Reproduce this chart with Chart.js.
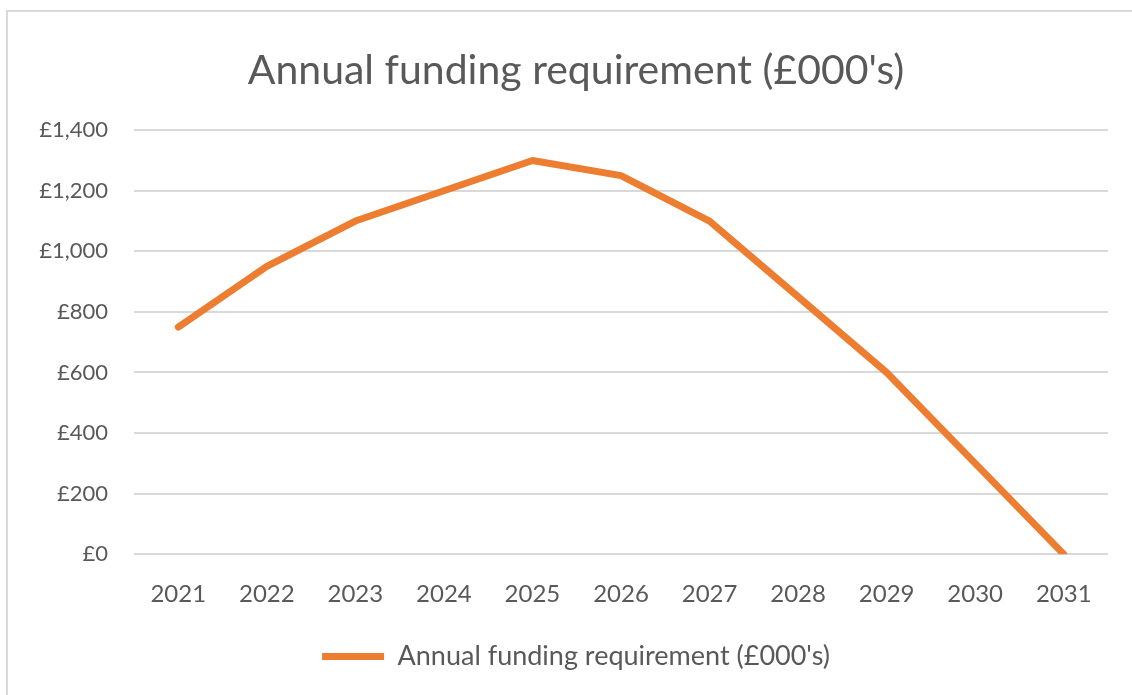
<!DOCTYPE html>
<html>
<head>
<meta charset="utf-8">
<script src="https://cdn.jsdelivr.net/npm/chart.js@4/dist/chart.umd.min.js"></script>
<style>
  html, body { margin: 0; padding: 0; background: #fff; overflow: hidden; }
  #frame {
    position: absolute; left: 6px; top: 10px; width: 1140px; height: 700px;
    border-left: 2px solid #d9d9d9; border-top: 2px solid #d9d9d9;
  }
  #wrap { position: absolute; left: 0; top: 0; width: 1132px; height: 695px; }
</style>
</head>
<body>
<div id="frame"></div>
<div id="wrap"><canvas id="myChart" width="1132" height="695"></canvas></div>
<script>
const years = ['2021', '2022', '2023', '2024', '2025', '2026', '2027', '2028', '2029', '2030', '2031'];
const funding = [750, 950, 1100, 1200, 1300, 1250, 1100, 850, 600, 300, 0];
const seriesName = "Annual funding requirement (£000's)";
const chartTitle = "Annual funding requirement (£000's)";

const textGrey = '#595959';
const fontFamily = 'Lato, "Open Sans", sans-serif';

window.addEventListener('load', () => {
    const ctx = document.getElementById('myChart').getContext('2d');
    new Chart(ctx, {
        type: 'line',
        data: {
            labels: years,
            datasets: [{
                label: seriesName,
                data: funding,
                borderColor: '#ED7D31',
                backgroundColor: '#ED7D31',
                borderWidth: 7,
                pointRadius: 0,
                tension: 0,
                borderCapStyle: 'round',
                borderJoinStyle: 'round'
            }]
        },
        options: {
            responsive: false,
            animation: false,
            layout: { padding: { left: 20, right: 0, top: 46, bottom: 15 } },
            plugins: {
                title: {
                    display: true,
                    text: chartTitle,
                    color: textGrey,
                    font: { family: fontFamily, size: 41, weight: 'normal' },
                    padding: { top: 0, bottom: 35 }
                },
                legend: {
                    position: 'bottom',
                    labels: {
                        color: textGrey,
                        font: { family: fontFamily, size: 27 },
                        boxWidth: 62,
                        boxHeight: 7,
                        padding: 8,
                        generateLabels: chart => chart.data.datasets.map((ds, i) => ({
                            text: ds.label,
                            fillStyle: ds.borderColor,
                            strokeStyle: ds.borderColor,
                            lineWidth: 0,
                            fontColor: textGrey,
                            datasetIndex: i
                        }))
                    }
                },
                tooltip: { enabled: false }
            },
            scales: {
                x: {
                    offset: true,
                    grid: { display: false, drawTicks: false },
                    border: { display: false },
                    ticks: {
                        color: textGrey,
                        font: { family: fontFamily, size: 24 },
                        padding: 26
                    }
                },
                y: {
                    min: 0,
                    max: 1400,
                    grid: { color: '#d9d9d9', lineWidth: 2, drawTicks: false },
                    border: { display: false },
                    afterFit: scale => { scale.width = 114; },
                    ticks: {
                        stepSize: 200,
                        color: textGrey,
                        font: { family: fontFamily, size: 22 },
                        padding: 26,
                        callback: v => '£' + v.toLocaleString('en-GB')
                    }
                },
                // empty right axis, only keeps the plot clear of the right edge
                yRight: {
                    position: 'right',
                    min: 0,
                    max: 1400,
                    grid: { display: false, drawTicks: false },
                    border: { display: false },
                    ticks: { display: false },
                    afterFit: scale => { scale.width = 24; }
                }
            }
        }
    });
});
</script>
</body>
</html>
